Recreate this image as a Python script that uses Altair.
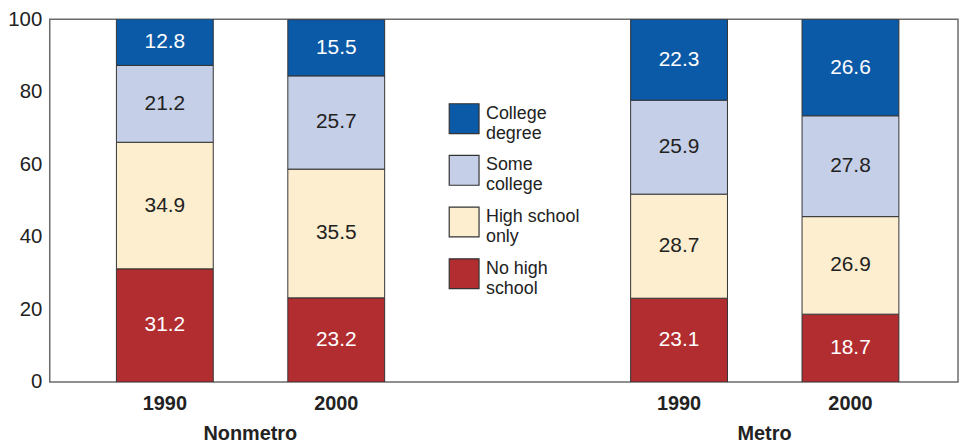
import altair as alt
import pandas as pd

# ---- data ----
groups = ["Nonmetro", "Nonmetro", "Metro", "Metro"]
years = ["1990", "2000", "1990", "2000"]
levels = ["No high school", "High school only", "Some college", "College degree"]
no_high_school = [31.2, 23.2, 23.1, 18.7]
high_school_only = [34.9, 35.5, 28.7, 26.9]
some_college = [21.2, 25.7, 25.9, 27.8]
college_degree = [12.8, 15.5, 22.3, 26.6]

legend_lines = {
    "College degree": ["College", "degree"],
    "Some college": ["Some", "college"],
    "High school only": ["High school", "only"],
    "No high school": ["No high", "school"],
}
legend_order = ["College degree", "Some college", "High school only", "No high school"]
colors = ["#0b5aa8", "#c5cfe7", "#fdeecf", "#b22d30"]

# ---- build long table ----
series = [no_high_school, high_school_only, some_college, college_degree]
rows = []
for i, (g, y) in enumerate(zip(groups, years)):
    for rank, (lev, vals) in enumerate(zip(levels, series)):
        rows.append({"cat": f"{g} {y}", "group": g, "level": lev,
                     "value": vals[i], "rank": rank})
df = pd.DataFrame(rows)

cats = [f"{g} {y}" for g, y in zip(groups, years)]
spacer = " "
x_domain = cats[:2] + [spacer] + cats[2:]

group_names = ["Nonmetro", "Metro"]
group_first = [cats[0], cats[2]]
gdf = pd.DataFrame({"cat": group_first, "label": group_names})

FONT = "Liberation Sans"
W, H = 914, 365

label_expr = " : ".join(
    f"datum.label == '{k}' ? {v!r}" for k, v in legend_lines.items()
) + " : datum.label"

x_scale = alt.Scale(domain=x_domain, paddingInner=0.435, paddingOuter=0.367, align=0.53)

x_enc = alt.X(
    "cat:N",
    scale=x_scale,
    axis=alt.Axis(
        title=None, labelAngle=0, ticks=False, domain=False, grid=False,
        labelFont=FONT, labelFontSize=20, labelFontWeight="bold",
        labelColor="#222", labelPadding=12,
        labelExpr="datum.label == ' ' ? '' : slice(datum.label, -4)",
    ),
)
y_scale = alt.Scale(domain=[0, 100], nice=False)

bars = alt.Chart(df).mark_bar(stroke="#333", strokeWidth=1, clip=True).encode(
    x=x_enc,
    y=alt.Y(
        "value:Q", stack="zero", scale=y_scale,
        axis=alt.Axis(
            title=None, values=[0, 20, 40, 60, 80, 100], ticks=False,
            domain=False, grid=False, labelFont=FONT, labelFontSize=20.5,
            labelColor="#222", labelPadding=8,
        ),
    ),
    color=alt.Color(
        "level:N",
        scale=alt.Scale(domain=legend_order, range=colors),
        legend=alt.Legend(
            title=None, orient="none", legendX=401, legendY=84,
            symbolType="square", symbolSize=900, symbolStrokeColor="#333",
            symbolStrokeWidth=1.2, symbolOpacity=1,
            labelFont=FONT, labelFontSize=18, labelColor="#222",
            labelOffset=6, rowPadding=10, labelLimit=0,
            labelBaseline="alphabetic",
            labelExpr=label_expr,
        ),
    ),
    order=alt.Order("rank:Q", sort="ascending"),
)

texts = alt.Chart(df).transform_stack(
    stack="value", groupby=["cat"], as_=["y0", "y1"],
    sort=[alt.SortField("rank", order="ascending")],
).transform_calculate(mid="(datum.y0 + datum.y1) / 2").mark_text(
    font=FONT, fontSize=21, baseline="middle", align="center"
).encode(
    x=alt.X("cat:N", scale=x_scale),
    y=alt.Y("mid:Q", scale=y_scale),
    text=alt.Text("value:Q", format=".1f"),
    color=alt.condition(
        "datum.level == 'College degree' || datum.level == 'No high school'",
        alt.value("white"), alt.value("#222"),
    ),
)

group_labels = alt.Chart(gdf).mark_text(
    font=FONT, fontSize=20, fontWeight="bold", color="#222",
    baseline="middle", align="center", dx=86,
).encode(
    x=alt.X("cat:N", scale=x_scale),
    y=alt.value(H + 52),
    text="label:N",
)

chart = alt.layer(bars, texts, group_labels).properties(
    width=W, height=H,
    autosize=alt.AutoSizeParams(type="none"),
    padding={"left": 42, "top": 10, "right": 3, "bottom": 60},
).configure_view(stroke="#6b6b6b", strokeWidth=1.5)

chart.save("out.html", embed_options={"renderer": "svg", "actions": False})
